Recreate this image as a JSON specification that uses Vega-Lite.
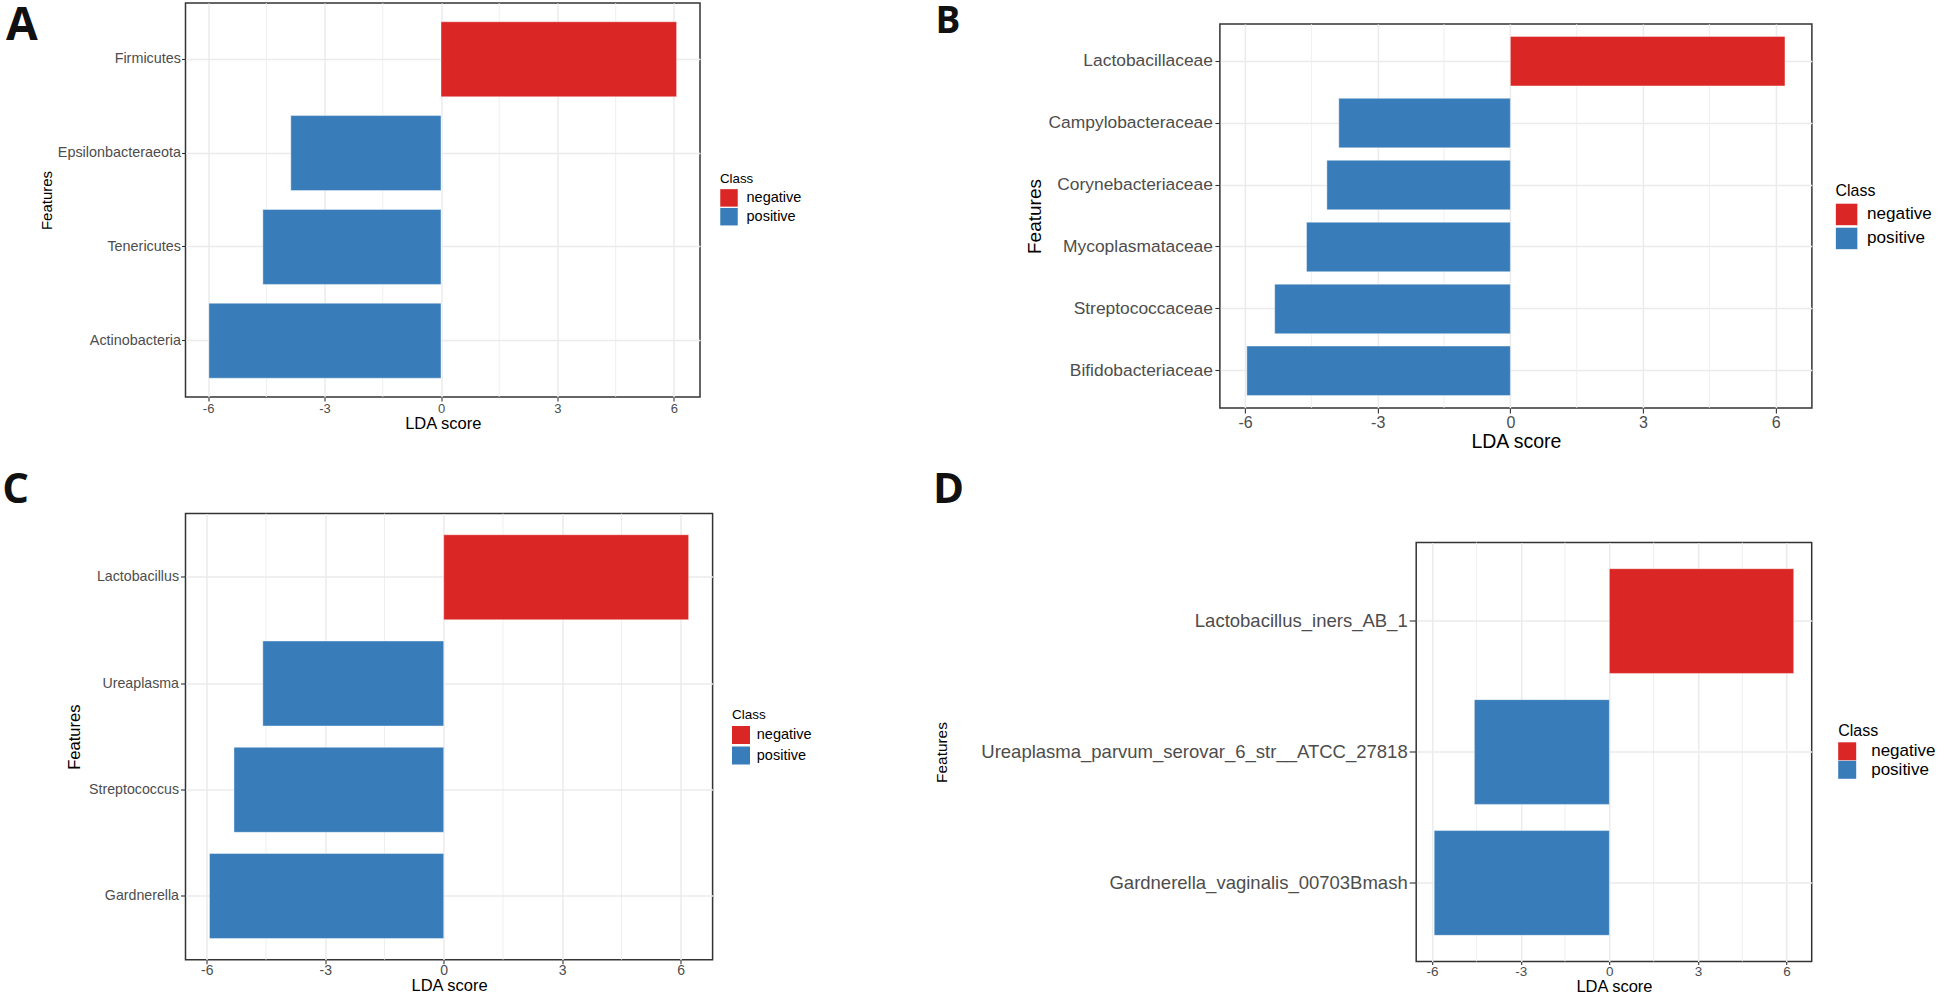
{
  "$schema": "https://vega.github.io/schema/vega-lite/v6.json",
  "background": "white",
  "padding": {"left": 0.5, "top": 0, "right": 0, "bottom": 0},
  "datasets": {
    "lda": [
      {"panel": "A", "feature": "Firmicutes", "score": 6.07, "class": "negative"},
      {"panel": "A", "feature": "Epsilonbacteraeota", "score": -3.87, "class": "positive"},
      {"panel": "A", "feature": "Tenericutes", "score": -4.59, "class": "positive"},
      {"panel": "A", "feature": "Actinobacteria", "score": -5.98, "class": "positive"},
      {"panel": "B", "feature": "Lactobacillaceae", "score": 6.21, "class": "negative"},
      {"panel": "B", "feature": "Campylobacteraceae", "score": -3.88, "class": "positive"},
      {"panel": "B", "feature": "Corynebacteriaceae", "score": -4.15, "class": "positive"},
      {"panel": "B", "feature": "Mycoplasmataceae", "score": -4.61, "class": "positive"},
      {"panel": "B", "feature": "Streptococcaceae", "score": -5.33, "class": "positive"},
      {"panel": "B", "feature": "Bifidobacteriaceae", "score": -5.96, "class": "positive"},
      {"panel": "C", "feature": "Lactobacillus", "score": 6.2, "class": "negative"},
      {"panel": "C", "feature": "Ureaplasma", "score": -4.58, "class": "positive"},
      {"panel": "C", "feature": "Streptococcus", "score": -5.31, "class": "positive"},
      {"panel": "C", "feature": "Gardnerella", "score": -5.93, "class": "positive"},
      {"panel": "D", "feature": "Lactobacillus_iners_AB_1", "score": 6.24, "class": "negative"},
      {"panel": "D", "feature": "Ureaplasma_parvum_serovar_6_str__ATCC_27818", "score": -4.57, "class": "positive"},
      {"panel": "D", "feature": "Gardnerella_vaginalis_00703Bmash", "score": -5.93, "class": "positive"}
    ],
    "minor": [{"g": -4.5}, {"g": -1.5}, {"g": 1.5}, {"g": 4.5}],
    "blank": [{"s": 0}]
  },
  "config": {
    "font": "Liberation Sans",
    "view": {"stroke": "#333333", "strokeWidth": 1.5},
    "axis": {
      "domain": false,
      "gridColor": "#EBEBEB",
      "gridWidth": 1.5,
      "tickColor": "#333333",
      "tickWidth": 1.1,
      "labelColor": "#4D4D4D",
      "titleColor": "#000000",
      "titleFontWeight": "normal",
      "labelFont": "Liberation Sans",
      "titleFont": "Liberation Sans",
      "labelLimit": 1000,
      "labelFlush": false,
      "labelOverlap": false,
      "titlePadding": 0
    },
    "legend": {
      "titleColor": "#000000",
      "labelColor": "#000000",
      "titleFontWeight": "normal",
      "symbolType": "square",
      "symbolStrokeWidth": 0,
      "symbolOpacity": 1,
      "padding": 0,
      "titleFont": "Liberation Sans",
      "labelFont": "Liberation Sans"
    },
    "title": {
      "font": "Open Sans",
      "fontWeight": "bold",
      "color": "#111111"
    }
  },
  "resolve": {"scale": {"color": "independent"}},
  "columns": 1,
  "align": "none",
  "spacing": 14.5,
  "concat": [
    {
      "resolve": {"scale": {"color": "independent"}},
      "columns": 2,
      "align": "none",
      "spacing": {"row": 0, "column": 130.4},
      "concat": [
        {"width": 1, "height": 1, "view": {"stroke": null}, "data": {"name": "blank"}, "mark": {"type": "point", "opacity": 0, "size": 1}, "encoding": {}},
        {"width": 1, "height": 1, "view": {"stroke": null}, "data": {"name": "blank"}, "mark": {"type": "point", "opacity": 0, "size": 1}, "encoding": {}},
        {
          "width": 514.5,
          "height": 394,
          "title": {"text": "A", "fontSize": 46, "orient": "left", "anchor": "end", "frame": "group", "angle": 0, "align": "right", "baseline": "top", "offset": -29.9, "dy": 0.8},
          "layer": [
            {
              "data": {"name": "minor"},
              "mark": {"type": "rule", "color": "#EBEBEB", "strokeWidth": 0.8},
              "encoding": {"x": {"field": "g", "type": "quantitative", "scale": {"domain": [-6.583, 6.673], "nice": false, "zero": false}}}
            },
            {
              "data": {"name": "lda"},
              "transform": [{"filter": "datum.panel === 'A'"}],
              "mark": {"type": "bar", "stroke": "white", "strokeWidth": 0.6, "strokeOpacity": 0.7},
              "encoding": {
                "y": {"field": "feature", "type": "nominal", "sort": "-x",
                  "scale": {"paddingInner": 0.2, "paddingOuter": 0.2},
                  "axis": {"title": "Features", "labelFontSize": 14.4, "titleFontSize": 15, "tickSize": 4, "labelPadding": 1, "minExtent": 130.8, "maxExtent": 130.8, "grid": true, "bandPosition": 0.5}},
                "x": {"field": "score", "type": "quantitative",
                  "scale": {"domain": [-6.583, 6.673], "nice": false, "zero": false},
                  "axis": {"title": "LDA score", "values": [-6, -3, 0, 3, 6], "grid": true, "labelExpr": "datum.value < 0 ? '-' + abs(datum.value) : '' + datum.value", "labelFontSize": 13, "titleFontSize": 16.5, "tickSize": 4, "labelPadding": 1, "minExtent": 18.2, "maxExtent": 18.2}},
                "color": {"field": "class", "type": "nominal",
                  "scale": {"domain": ["negative", "positive"], "range": ["#DA2624", "#387DB9"]},
                  "legend": {"title": "Class", "orient": "none", "legendX": 534.5, "legendY": 169, "titleFontSize": 13.3, "labelFontSize": 14.5, "symbolSize": 306, "titlePadding": 3.6, "rowPadding": 0.8, "labelOffset": 8.5}}
              }
            }
          ]
        },
        {
          "width": 592,
          "height": 384,
          "title": {"text": "B", "fontSize": 37, "orient": "left", "anchor": "end", "frame": "group", "angle": 0, "align": "right", "baseline": "top", "offset": 39.7, "dy": -20.5},
          "layer": [
            {
              "data": {"name": "minor"},
              "mark": {"type": "rule", "color": "#EBEBEB", "strokeWidth": 0.8},
              "encoding": {"x": {"field": "g", "type": "quantitative", "scale": {"domain": [-6.569, 6.819], "nice": false, "zero": false}}}
            },
            {
              "data": {"name": "lda"},
              "transform": [{"filter": "datum.panel === 'B'"}],
              "mark": {"type": "bar", "stroke": "white", "strokeWidth": 0.6, "strokeOpacity": 0.7},
              "encoding": {
                "y": {"field": "feature", "type": "nominal", "sort": "-x",
                  "scale": {"paddingInner": 0.2, "paddingOuter": 0.2},
                  "axis": {"title": "Features", "labelFontSize": 17.4, "titleFontSize": 19, "tickSize": 5, "labelPadding": 2.5, "minExtent": 175.9, "maxExtent": 175.9, "grid": true, "bandPosition": 0.5}},
                "x": {"field": "score", "type": "quantitative",
                  "scale": {"domain": [-6.569, 6.819], "nice": false, "zero": false},
                  "axis": {"title": "LDA score", "values": [-6, -3, 0, 3, 6], "grid": true, "labelExpr": "datum.value < 0 ? '-' + abs(datum.value) : '' + datum.value", "labelFontSize": 16, "titleFontSize": 19.5, "tickSize": 5, "labelPadding": 1.5, "minExtent": 24.3, "maxExtent": 24.3}},
                "color": {"field": "class", "type": "nominal",
                  "scale": {"domain": ["negative", "positive"], "range": ["#DA2624", "#387DB9"]},
                  "legend": {"title": "Class", "orient": "none", "legendX": 615.7, "legendY": 158.8, "titleFontSize": 15.9, "labelFontSize": 17.1, "symbolSize": 462, "titlePadding": 4.75, "rowPadding": 2, "labelOffset": 9.5}}
              }
            }
          ]
        }
      ]
    },
    {
      "resolve": {"scale": {"color": "independent"}},
      "columns": 2,
      "align": "none",
      "spacing": {"row": 0, "column": 118.7},
      "concat": [
        {"width": 1, "height": 1, "view": {"stroke": null}, "data": {"name": "blank"}, "mark": {"type": "point", "opacity": 0, "size": 1}, "encoding": {}},
        {"width": 1, "height": 1, "view": {"stroke": null}, "data": {"name": "blank"}, "mark": {"type": "point", "opacity": 0, "size": 1}, "encoding": {}},
        {
          "width": 527.1,
          "height": 446.3,
          "title": {"text": "C", "fontSize": 42, "orient": "left", "anchor": "end", "frame": "group", "angle": 0, "align": "right", "baseline": "top", "offset": 10.5, "dy": -43.5},
          "layer": [
            {
              "data": {"name": "minor"},
              "mark": {"type": "rule", "color": "#EBEBEB", "strokeWidth": 0.8},
              "encoding": {"x": {"field": "g", "type": "quantitative", "scale": {"domain": [-6.537, 6.807], "nice": false, "zero": false}}}
            },
            {
              "data": {"name": "lda"},
              "transform": [{"filter": "datum.panel === 'C'"}],
              "mark": {"type": "bar", "stroke": "white", "strokeWidth": 0.6, "strokeOpacity": 0.7},
              "encoding": {
                "y": {"field": "feature", "type": "nominal", "sort": "-x",
                  "scale": {"paddingInner": 0.2, "paddingOuter": 0.2},
                  "axis": {"title": "Features", "labelFontSize": 14.2, "titleFontSize": 16.5, "tickSize": 5, "labelPadding": 2, "minExtent": 103.3, "maxExtent": 103.3, "grid": true, "bandPosition": 0.5}},
                "x": {"field": "score", "type": "quantitative",
                  "scale": {"domain": [-6.537, 6.807], "nice": false, "zero": false},
                  "axis": {"title": "LDA score", "values": [-6, -3, 0, 3, 6], "grid": true, "labelExpr": "datum.value < 0 ? '-' + abs(datum.value) : '' + datum.value", "labelFontSize": 14, "titleFontSize": 16.5, "tickSize": 4, "labelPadding": 0, "minExtent": 18, "maxExtent": 18}},
                "color": {"field": "class", "type": "nominal",
                  "scale": {"domain": ["negative", "positive"], "range": ["#DA2624", "#387DB9"]},
                  "legend": {"title": "Class", "orient": "none", "legendX": 546.5, "legendY": 194.2, "titleFontSize": 13.5, "labelFontSize": 14.5, "symbolSize": 324, "titlePadding": 4.8, "rowPadding": 2.5, "labelOffset": 6.8}}
              }
            }
          ]
        },
        {
          "width": 395.5,
          "height": 419,
          "title": {"text": "D", "fontSize": 42, "orient": "left", "anchor": "end", "frame": "group", "angle": 0, "align": "right", "baseline": "top", "offset": -60.6, "dy": -72.3},
          "layer": [
            {
              "data": {"name": "minor"},
              "mark": {"type": "rule", "color": "#EBEBEB", "strokeWidth": 0.8},
              "encoding": {"x": {"field": "g", "type": "quantitative", "scale": {"domain": [-6.539, 6.849], "nice": false, "zero": false}}}
            },
            {
              "data": {"name": "lda"},
              "transform": [{"filter": "datum.panel === 'D'"}],
              "mark": {"type": "bar", "stroke": "white", "strokeWidth": 0.6, "strokeOpacity": 0.7},
              "encoding": {
                "y": {"field": "feature", "type": "nominal", "sort": "-x",
                  "scale": {"paddingInner": 0.2, "paddingOuter": 0.2},
                  "axis": {"title": "Features", "labelFontSize": 18.5, "titleFontSize": 15.4, "tickSize": 7, "labelPadding": 2, "minExtent": 466.5, "maxExtent": 466.5, "grid": true, "bandPosition": 0.5}},
                "x": {"field": "score", "type": "quantitative",
                  "scale": {"domain": [-6.539, 6.849], "nice": false, "zero": false},
                  "axis": {"title": "LDA score", "values": [-6, -3, 0, 3, 6], "grid": true, "labelExpr": "datum.value < 0 ? '-' + abs(datum.value) : '' + datum.value", "labelFontSize": 13.5, "titleFontSize": 16.5, "tickSize": 3, "labelPadding": 0, "minExtent": 16.5, "maxExtent": 16.5}},
                "color": {"field": "class", "type": "nominal",
                  "scale": {"domain": ["negative", "positive"], "range": ["#DA2624", "#387DB9"]},
                  "legend": {"title": "Class", "orient": "none", "legendX": 422, "legendY": 180.8, "titleFontSize": 16, "labelFontSize": 17, "symbolSize": 324, "titlePadding": 3, "rowPadding": 0.5, "labelOffset": 15}}
              }
            }
          ]
        }
      ]
    }
  ]
}
